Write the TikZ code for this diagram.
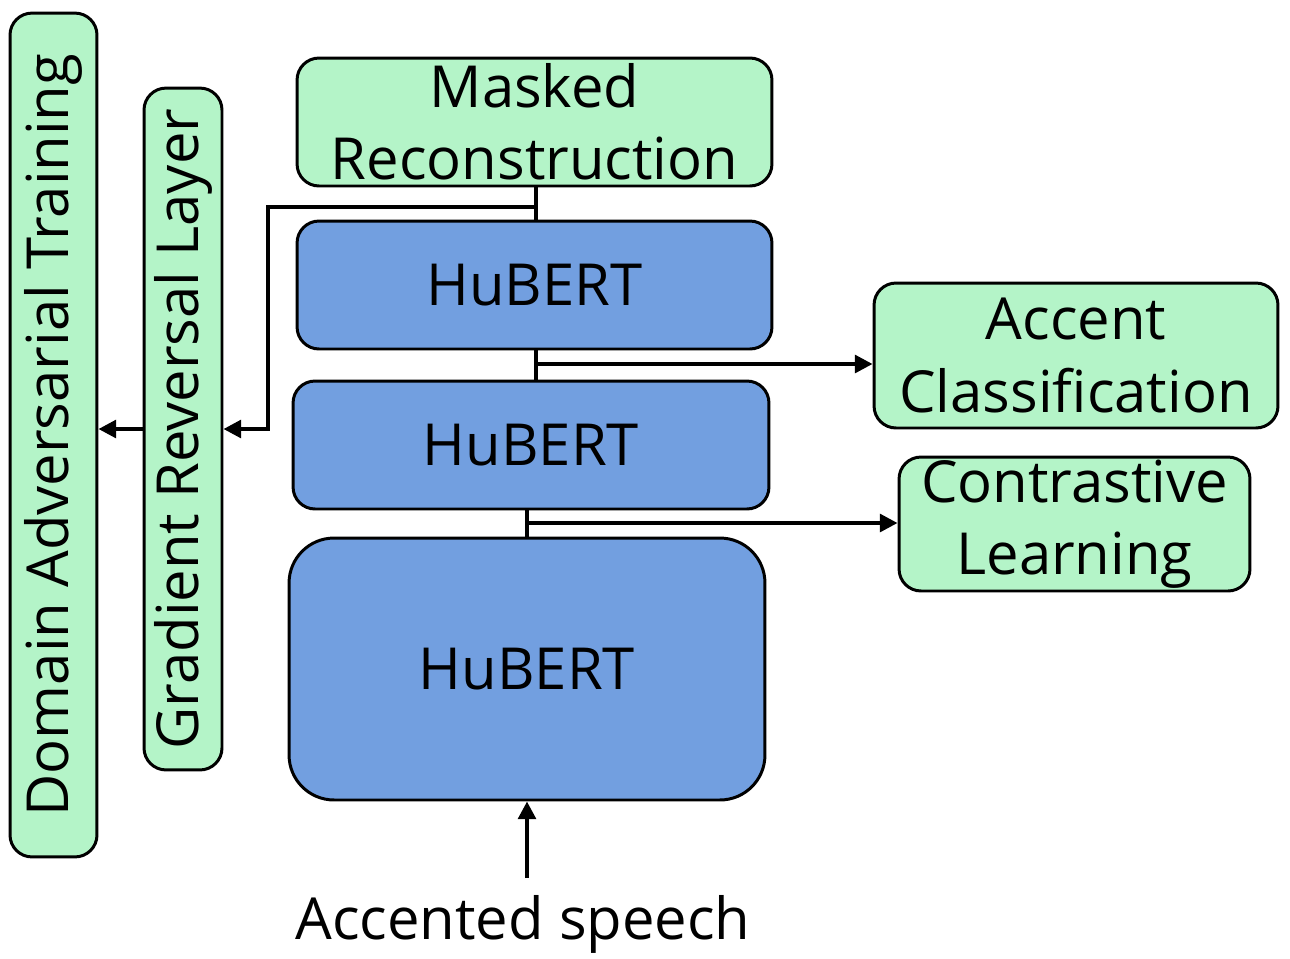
\documentclass[tikz,border=0pt]{standalone}
\usepackage{fontspec}
\setmainfont{Open Sans}
\usetikzlibrary{arrows.meta,calc}
\definecolor{HeadClr}{rgb}{0.7058823529411765,0.9568627450980393,0.7843137254901961}
\definecolor{EncClr}{rgb}{0.4470588235294118,0.6235294117647059,0.8784313725490196}

\begin{document}
\begin{tikzpicture}[x=0.02cm,y=-0.02cm]
\tikzset{
  box/.style={draw,line width=1.7pt,rounded corners=0.44cm,align=center,
    font=\fontsize{33}{41}\selectfont,inner sep=0pt},
  head/.style={box,fill=HeadClr},
  enc/.style={box,fill=EncClr},
  conn/.style={line width=2.2pt},
  arr/.style={conn,-{Triangle[length=10pt,width=10pt]}}
}
\useasboundingbox (0,0) rectangle (1290,958);

\node[head,rotate=90,minimum width=16.88cm,minimum height=1.74cm] (DAT) at (53.5,435) {Domain Adversarial Training};
\node[head,rotate=90,minimum width=13.64cm,minimum height=1.56cm] (GRL) at (183,429) {Gradient Reversal Layer};

\node[head,minimum width=9.5cm,minimum height=2.56cm] (MR) at (534.5,122) {Masked\\Reconstruction};
\node[enc,minimum width=9.5cm,minimum height=2.56cm] (H1) at (534.5,285) {HuBERT};
\node[enc,minimum width=9.52cm,minimum height=2.56cm] (H2) at (531,445) {HuBERT};
\node[enc,minimum width=9.52cm,minimum height=5.24cm,rounded corners=0.9cm] (H3) at (527,669) {HuBERT};

\node[head,minimum width=8.08cm,minimum height=2.9cm] (AC) at (1076,355.5) {Accent\\Classification};
\node[head,minimum width=7.02cm,minimum height=2.68cm] (CL) at (1074.5,524) {Contrastive\\Learning};

\node[font=\fontsize{33}{41}\selectfont] (speech) at (523,924) {Accented speech};

\coordinate (tapA) at (536,207);
\coordinate (bend) at (268,300);
\coordinate (tapB) at (536,364);
\coordinate (tapC) at (527,523);

\draw[conn] (tapA |- MR.south) -- (tapA |- H1.north);
\draw[arr] (tapA) -| (bend) |- (GRL.south);
\draw[arr] (GRL.north) -- (DAT.south |- GRL.north);

\draw[conn] (tapB |- H1.south) -- (tapB |- H2.north);
\draw[arr] (tapB) -- (AC.west |- tapB);

\draw[conn] (tapC |- H2.south) -- (tapC |- H3.north);
\draw[arr] (tapC) -- (CL.west |- tapC);

\draw[arr] (H3.south |- 0,878) -- (H3.south);

\end{tikzpicture}
\end{document}
